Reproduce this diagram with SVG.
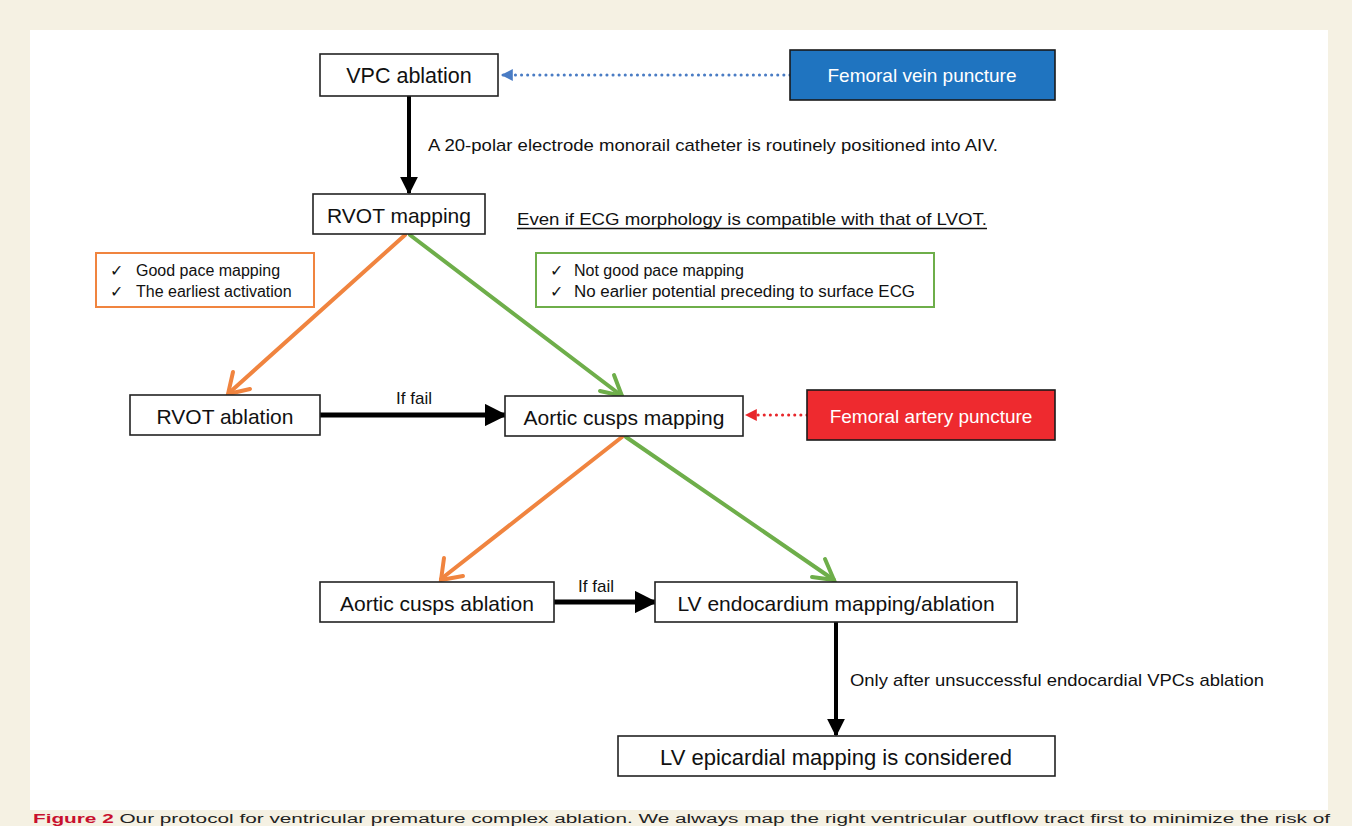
<svg xmlns="http://www.w3.org/2000/svg" width="1352" height="826" viewBox="0 0 1352 826">
<style>
.box{fill:#fff;stroke:#222;stroke-width:1.6}
.t{font-family:"Liberation Sans",Arial,sans-serif;font-size:21px;fill:#111;text-anchor:middle;dominant-baseline:central}
.a{font-family:"Liberation Sans",Arial,sans-serif;font-size:17px;fill:#111}
.c{font-family:"Liberation Sans",Arial,sans-serif;font-size:16px;fill:#111}
.k{fill:none;stroke:#000;stroke-width:4}
.or{fill:none;stroke:#f0843f;stroke-width:4;stroke-linecap:round}
.gr{fill:none;stroke:#6eae4a;stroke-width:4;stroke-linecap:round}
</style>
<defs>
<marker id="ah" viewBox="0 0 10 10" refX="9" refY="5" markerWidth="4.5" markerHeight="4.5" orient="auto" markerUnits="strokeWidth">
<path d="M0,0 L10,5 L0,10 z" fill="#000"/>
</marker>
<marker id="ab" viewBox="0 0 10 10" refX="9" refY="5" markerWidth="4" markerHeight="4" orient="auto" markerUnits="strokeWidth">
<path d="M0,0 L10,5 L0,10 z" fill="#4a7cc4"/>
</marker>
<marker id="ar" viewBox="0 0 10 10" refX="9" refY="5" markerWidth="4" markerHeight="4" orient="auto" markerUnits="strokeWidth">
<path d="M0,0 L10,5 L0,10 z" fill="#e8262b"/>
</marker>
</defs>
<rect x="0" y="0" width="1352" height="826" fill="#f5f1e3"/>
<rect x="30" y="30" width="1298" height="780" fill="#ffffff"/>

<g id="connectors">
<line x1="790" y1="75" x2="502" y2="75" stroke="#4a7cc4" stroke-width="3" stroke-dasharray="0.1 6" stroke-linecap="round" marker-end="url(#ab)"/>
<line x1="409" y1="96" x2="409" y2="193" class="k" marker-end="url(#ah)"/>
<line x1="405" y1="235" x2="229" y2="393" class="or"/>
<polyline points="233,372 228,394 250,389" class="or"/>
<line x1="410" y1="235" x2="622" y2="396" class="gr"/>
<polyline points="600,391 622,396 614,375" class="gr"/>
<line x1="320" y1="415" x2="505" y2="415" stroke="#000" stroke-width="5" marker-end="url(#ah)"/>
<line x1="807" y1="415" x2="746" y2="415" stroke="#e8262b" stroke-width="3" stroke-dasharray="0.1 6" stroke-linecap="round" marker-end="url(#ar)"/>
<line x1="622" y1="437" x2="441" y2="579" class="or"/>
<polyline points="444,558 441,580 463,576" class="or"/>
<line x1="626" y1="437" x2="834" y2="580" class="gr"/>
<polyline points="812,577 834,580 825,559" class="gr"/>
<line x1="554" y1="602" x2="655" y2="602" stroke="#000" stroke-width="5" marker-end="url(#ah)"/>
<line x1="836" y1="622" x2="836" y2="735" class="k" marker-end="url(#ah)"/>
</g>

<g id="vpc-ablation"><rect class="box" x="320" y="54" width="178" height="42"/><text class="t" x="409" y="76" style="font-size:21.5px">VPC ablation</text></g>
<g id="femoral-vein"><rect x="790" y="50" width="265" height="50" fill="#1f74c0" stroke="#1a1a1a" stroke-width="1.6"/><text class="t" x="922" y="75" style="fill:#fff;font-size:19px">Femoral vein puncture</text></g>
<g id="note-aiv"><text class="a" x="428" y="151" textLength="570" lengthAdjust="spacingAndGlyphs">A 20-polar electrode monorail catheter is routinely positioned into AIV.</text></g>
<g id="rvot-mapping"><rect class="box" x="313" y="194" width="172" height="40"/><text class="t" x="399" y="215">RVOT mapping</text></g>
<g id="note-lvot"><text class="a" x="517" y="225" textLength="470" lengthAdjust="spacingAndGlyphs">Even if ECG morphology is compatible with that of LVOT.</text><line x1="517" y1="228.5" x2="987" y2="228.5" stroke="#111" stroke-width="1.3"/></g>
<g id="orange-criteria"><rect x="96" y="253" width="218" height="54" fill="#fff" stroke="#f0843f" stroke-width="2"/>
<text class="c" x="110" y="276">✓</text><text class="c" x="136" y="276">Good pace mapping</text>
<text class="c" x="110" y="297">✓</text><text class="c" x="136" y="297">The earliest activation</text></g>
<g id="green-criteria"><rect x="536" y="253" width="398" height="54" fill="#fff" stroke="#6eae4a" stroke-width="2"/>
<text class="c" x="550" y="276">✓</text><text class="c" x="574" y="276">Not good pace mapping</text>
<text class="c" x="550" y="297">✓</text><text class="c" x="574" y="297" textLength="341" lengthAdjust="spacingAndGlyphs">No earlier potential preceding to  surface ECG</text></g>
<g id="rvot-ablation"><rect class="box" x="130" y="395" width="190" height="40"/><text class="t" x="225" y="416">RVOT ablation</text></g>
<g id="iffail-1"><text class="a" x="414" y="404" text-anchor="middle">If fail</text></g>
<g id="aortic-mapping"><rect class="box" x="505" y="396" width="238" height="40"/><text class="t" x="624" y="417">Aortic cusps mapping</text></g>
<g id="femoral-artery"><rect x="807" y="390" width="248" height="50" fill="#ee2a2f" stroke="#1a1a1a" stroke-width="1.6"/><text class="t" x="931" y="416" style="fill:#fff;font-size:19px">Femoral artery puncture</text></g>
<g id="aortic-ablation"><rect class="box" x="320" y="582" width="234" height="40"/><text class="t" x="437" y="603">Aortic cusps ablation</text></g>
<g id="iffail-2"><text class="a" x="596" y="592" text-anchor="middle">If fail</text></g>
<g id="lv-endo"><rect class="box" x="655" y="582" width="362" height="40"/><text class="t" x="836" y="603">LV endocardium mapping/ablation</text></g>
<g id="note-endo"><text class="a" x="850" y="686" textLength="414" lengthAdjust="spacingAndGlyphs">Only after unsuccessful endocardial VPCs ablation</text></g>
<g id="lv-epi"><rect class="box" x="618" y="736" width="437" height="40"/><text class="t" x="836" y="757" style="font-size:22px">LV epicardial mapping is considered</text></g>

<text x="33" y="823" font-family="'Liberation Sans',Arial,sans-serif" font-size="12" fill="#222" textLength="1297" lengthAdjust="spacingAndGlyphs"><tspan font-weight="bold" fill="#c8102e">Figure 2</tspan> Our protocol for ventricular premature complex ablation. We always map the right ventricular outflow tract first to minimize the risk of</text>
</svg>
